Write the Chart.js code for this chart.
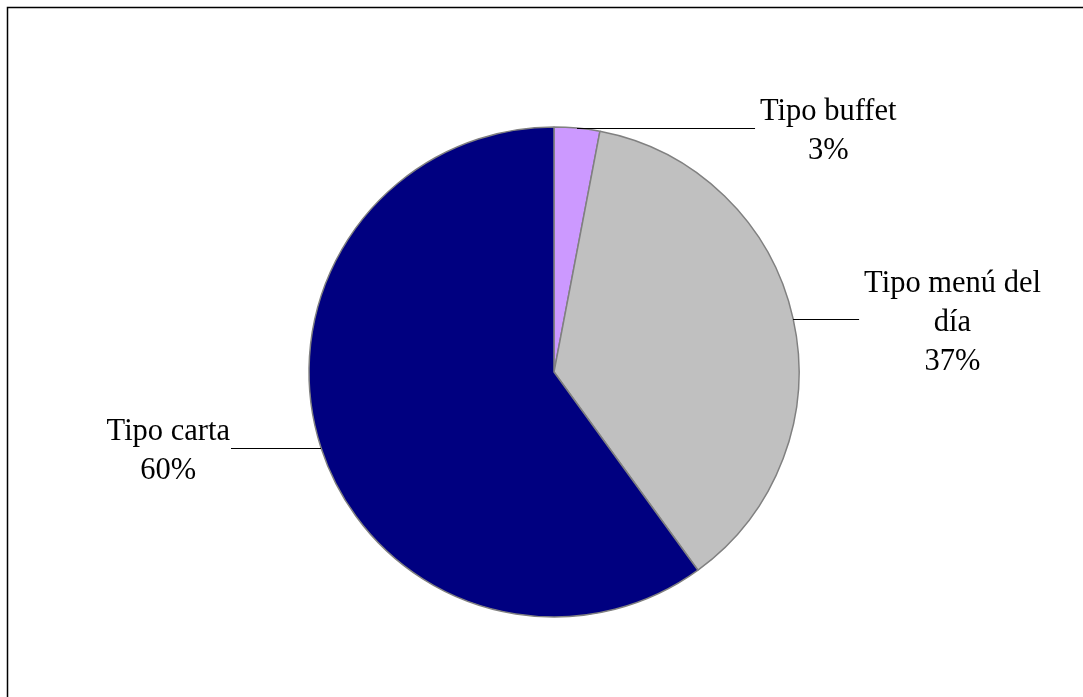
<!DOCTYPE html>
<html>
<head>
<meta charset="utf-8">
<title>Tipo de restaurante</title>
<script src="https://cdn.jsdelivr.net/npm/chart.js@4.4.0/dist/chart.umd.min.js"></script>
<style>
  body { margin: 0; background: #fff; }
  canvas { display: block; }
</style>
</head>
<body>
<canvas id="myChart" width="1083" height="697"></canvas>
<script>
// categorías y valores (%)
const tipos = ['Tipo buffet', 'Tipo menú del día', 'Tipo carta'];
const porcentajes = [3, 37, 60];
const colores = ['#CC99FF', '#C0C0C0', '#000080'];

// largo de la línea guía de cada etiqueta
const largoGuia = [178, 66, 90];

const fuente = '30.5px "Liberation Serif", "Times New Roman", serif';

// marco de la hoja
const marco = {
  id: 'marco',
  beforeDraw(chart) {
    const ctx = chart.ctx;
    ctx.save();
    ctx.strokeStyle = '#000';
    ctx.lineWidth = 1.5;
    ctx.beginPath();
    ctx.moveTo(7.5, chart.height);
    ctx.lineTo(7.5, 7.5);
    ctx.lineTo(chart.width, 7.5);
    ctx.stroke();
    ctx.restore();
  }
};

function partirTexto(ctx, texto, ancho) {
  const palabras = texto.split(' ');
  let lineas = [];
  let actual = '';
  palabras.forEach(p => {
    const prueba = actual ? actual + ' ' + p : p;
    if (ctx.measureText(prueba).width > ancho && actual) {
      lineas.push(actual);
      actual = p;
    } else {
      actual = prueba;
    }
  });
  lineas.push(actual);
  return lineas;
}

// etiquetas con línea guía
const etiquetas = {
  id: 'etiquetas',
  afterDatasetsDraw(chart) {
    const ctx = chart.ctx;
    const meta = chart.getDatasetMeta(0);
    const datos = chart.data.datasets[0].data;
    const total = datos.reduce((a, b) => a + b, 0);
    ctx.save();
    ctx.font = fuente;
    ctx.fillStyle = '#000';
    ctx.strokeStyle = '#000';
    ctx.lineWidth = 1;
    meta.data.forEach((arc, i) => {
      const p = arc.getProps(['x', 'y', 'startAngle', 'endAngle', 'outerRadius'], true);
      const medio = (p.startAngle + p.endAngle) / 2;
      const x0 = p.x + Math.cos(medio) * p.outerRadius;
      const y0 = Math.round(p.y + Math.sin(medio) * p.outerRadius) + 0.5;
      const derecha = Math.cos(medio) >= 0;
      const x1 = derecha ? x0 + largoGuia[i] : x0 - largoGuia[i];

      ctx.beginPath();
      ctx.moveTo(x0, y0);
      ctx.lineTo(x1, y0);
      ctx.stroke();

      const lineas = partirTexto(ctx, chart.data.labels[i], 190);
      lineas.push(Math.round(datos[i] / total * 100) + '%');
      const anchoBloque = Math.max(...lineas.map(l => ctx.measureText(l).width));
      const cx = derecha ? x1 + 5 + anchoBloque / 2 : x1 - 1 - anchoBloque / 2;
      const alto = 39;
      ctx.textAlign = 'center';
      ctx.textBaseline = 'alphabetic';
      lineas.forEach((l, k) => {
        ctx.fillText(l, cx, y0 + 11 + (k - (lineas.length - 1) / 2) * alto);
      });
    });
    ctx.restore();
  }
};

const ctx = document.getElementById('myChart');

new Chart(ctx, {
  type: 'pie',
  data: {
    labels: tipos,
    datasets: [{
      data: porcentajes,
      backgroundColor: colores,
      borderColor: '#808080',
      borderWidth: 1.5
    }]
  },
  options: {
    responsive: false,
    animation: false,
    radius: 245,
    layout: {
      padding: { left: 25, right: 0, top: 47, bottom: 0 }
    },
    plugins: {
      legend: { display: false },
      tooltip: { enabled: false }
    }
  },
  plugins: [marco, etiquetas]
});
</script>
</body>
</html>
